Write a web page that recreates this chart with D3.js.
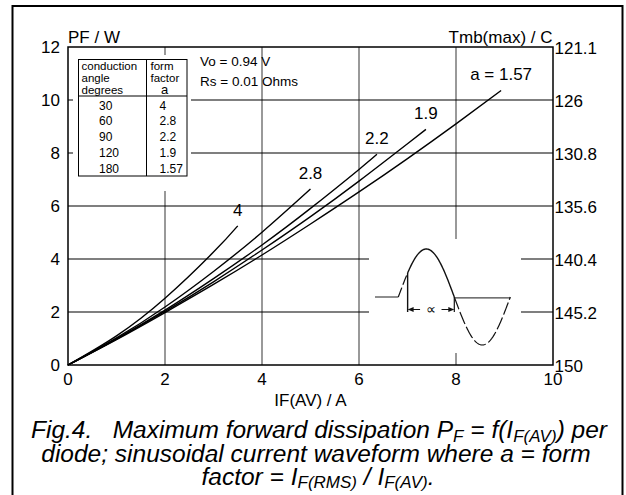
<!DOCTYPE html>
<html><head><meta charset="utf-8">
<script src="https://cdn.jsdelivr.net/npm/d3@7"></script>
<style>
body{margin:0;background:#fff}
svg{display:block}
text{font-family:"Liberation Sans",Arial,Helvetica,sans-serif;fill:#000}
</style>
</head><body>
<svg id="c" width="626" height="495"></svg>
<script>
// ---- data ----
const xTicks = [0, 2, 4, 6, 8, 10];
const yTicks = [0, 2, 4, 6, 8, 10, 12];
const tmbLabels = ["150", "145.2", "140.4", "135.6", "130.8", "126", "121.1"];
const angles = ["30", "60", "90", "120", "180"];
const formFactors = ["4", "2.8", "2.2", "1.9", "1.57"];
const curveLabels = ["4", "2.8", "2.2", "1.9", "a = 1.57"];
const curveA4   = [[0,0],[1,1.10],[2,2.52],[3,4.26],[3.5,5.25]];
const curveA28  = [[0,0],[1,1.02],[2,2.19],[3,3.53],[4,5.01],[5,6.64]];
const curveA22  = [[0,0],[1,0.99],[2,2.07],[3,3.26],[4,4.53],[5,5.91],[6,7.38],[6.37,7.95]];
const curveA19  = [[0,0],[1,0.98],[2,2.02],[3,3.14],[4,4.34],[5,5.60],[6,6.94],[7,8.35],[7.38,8.89]];
const curveA157 = [[0,0],[1,0.96],[2,1.98],[3,3.04],[4,4.15],[5,5.32],[6,6.53],[7,7.79],[8,9.10],[8.93,10.36]];
const curves = [curveA4, curveA28, curveA22, curveA19, curveA157];

// ---- layout ----
const svg = d3.select("#c");
const L = 68, R = 553, T = 47, B = 365;
const x = d3.scaleLinear().domain([0, 10]).range([L, R]);
const y = d3.scaleLinear().domain([0, 12]).range([B, T]);
const F = 17;

// outer frame
svg.append("rect").attr("x", 12.5).attr("y", 6).attr("width", 610).attr("height", 500)
  .attr("fill", "none").attr("stroke", "#000").attr("stroke-width", 2);

// gridlines
svg.append("g").selectAll("line").data(xTicks.slice(1, -1)).join("line")
  .attr("x1", d => x(d)).attr("x2", d => x(d)).attr("y1", T).attr("y2", B)
  .attr("stroke", "#777").attr("stroke-width", 1.5);
svg.append("g").selectAll("line").data(yTicks.slice(1, -1)).join("line")
  .attr("x1", L).attr("x2", R).attr("y1", d => y(d)).attr("y2", d => y(d))
  .attr("stroke", "#000").attr("stroke-width", 1.2);

// white masks (table and inset)
svg.append("rect").attr("x", L + 5).attr("y", T + 8).attr("width", 118).attr("height", 136).attr("fill", "#fff");
svg.append("rect").attr("x", L + 301).attr("y", T + 192).attr("width", 152).attr("height", 114).attr("fill", "#fff");

// plot frame
svg.append("rect").attr("x", L).attr("y", T).attr("width", R - L).attr("height", B - T)
  .attr("fill", "none").attr("stroke", "#000").attr("stroke-width", 1.5);

// tick labels
svg.append("g").selectAll("text").data(yTicks).join("text")
  .attr("x", L - 8).attr("y", d => y(d)).attr("dy", "0.35em")
  .attr("text-anchor", "end").attr("font-size", F).text(d => d);
svg.append("g").selectAll("text").data(yTicks).join("text")
  .attr("x", R + 1.5).attr("y", d => y(d) + 1).attr("dy", "0.35em")
  .attr("text-anchor", "start").attr("font-size", F).text((d, i) => tmbLabels[i]);
svg.append("g").selectAll("text").data(xTicks).join("text")
  .attr("x", d => x(d)).attr("y", B + 20)
  .attr("text-anchor", "middle").attr("font-size", F).text(d => d);

// axis titles
svg.append("text").attr("x", L).attr("y", T - 4.5).attr("font-size", F).text("PF / W");
svg.append("text").attr("x", R - 0.5).attr("y", T - 4).attr("text-anchor", "end").attr("font-size", F).text("Tmb(max) / C");
svg.append("text").attr("x", x(5)).attr("y", B + 41).attr("text-anchor", "middle").attr("font-size", F).text("IF(AV) / A");

// curves
const line = d3.line().x(d => x(d[0])).y(d => y(d[1])).curve(d3.curveNatural);
svg.append("g").selectAll("path").data(curves).join("path")
  .attr("d", line).attr("fill", "none").attr("stroke", "#000").attr("stroke-width", 1.4);
svg.append("g").selectAll("text").data(curves).join("text")
  .attr("x", d => x(d[d.length - 1][0])).attr("y", d => y(d[d.length - 1][1]) - 10)
  .attr("text-anchor", "middle").attr("font-size", F).text((d, i) => curveLabels[i]);

// Vo / Rs
svg.append("text").attr("x", L + 132).attr("y", T + 18.5).attr("font-size", 13.5).text("Vo = 0.94 V");
svg.append("text").attr("x", L + 132).attr("y", T + 39).attr("font-size", 13.5).text("Rs = 0.01 Ohms");

// table
const tb = svg.append("g");
const tx0 = L + 10.5, ty0 = T + 12.5, tw = 108.5, th = 116.5, tcol = L + 78.5, thead = T + 49;
tb.append("rect").attr("x", tx0).attr("y", ty0).attr("width", tw).attr("height", th)
  .attr("fill", "#fff").attr("stroke", "#000").attr("stroke-width", 1);
tb.append("line").attr("x1", tcol).attr("x2", tcol).attr("y1", ty0).attr("y2", ty0 + th).attr("stroke", "#000");
tb.append("line").attr("x1", tx0).attr("x2", tx0 + tw).attr("y1", thead).attr("y2", thead).attr("stroke", "#000");
["conduction", "angle", "degrees"].forEach((s, i) =>
  tb.append("text").attr("x", tx0 + 3).attr("y", ty0 + 10 + i * 12).attr("font-size", 11.5).text(s));
["form", "factor"].forEach((s, i) =>
  tb.append("text").attr("x", tcol + 4).attr("y", ty0 + 10 + i * 12).attr("font-size", 11.5).text(s));
tb.append("text").attr("x", tcol + 18).attr("y", ty0 + 34).attr("text-anchor", "middle").attr("font-size", 13).text("a");
tb.selectAll("text.ang").data(angles).join("text").attr("class", "ang")
  .attr("x", tx0 + 20.5).attr("y", (d, i) => ty0 + 50 + i * 15.85).attr("font-size", 12).text(d => d);
tb.selectAll("text.ff").data(formFactors).join("text").attr("class", "ff")
  .attr("x", tcol + 13).attr("y", (d, i) => ty0 + 50 + i * 15.85).attr("font-size", 12).text(d => d);

// inset sinusoid schematic
const ins = svg.append("g");
const z0 = L + 330.3, per = 112, base = T + 250, amp = 48;
const px = deg => z0 + deg / 360 * per;
const py = v => base - v * amp;
const sinPath = (a0, a1) => d3.line()(d3.range(a0, a1 + 0.01, 2).map(a => [px(a), py(Math.sin(a * Math.PI / 180))]));
const st = "#111";
ins.append("line").attr("x1", px(-75)).attr("x2", px(0)).attr("y1", base).attr("y2", base).attr("stroke", "#444").attr("stroke-width", 1.2);
ins.append("path").attr("d", sinPath(0, 30)).attr("fill", "none").attr("stroke", st).attr("stroke-width", 1.2).attr("stroke-dasharray", "10,3");
ins.append("line").attr("x1", px(30)).attr("x2", px(30)).attr("y1", py(0.5)).attr("y2", base + 15).attr("stroke", st).attr("stroke-width", 1.4);
ins.append("path").attr("d", sinPath(30, 180)).attr("fill", "none").attr("stroke", st).attr("stroke-width", 1.4);
ins.append("line").attr("x1", px(180)).attr("x2", px(180)).attr("y1", base).attr("y2", base + 15).attr("stroke", st).attr("stroke-width", 1.2);
ins.append("line").attr("x1", px(180)).attr("x2", px(360)).attr("y1", base + 0.8).attr("y2", base + 0.8).attr("stroke", "#444").attr("stroke-width", 1.2);
ins.append("path").attr("d", sinPath(180, 360)).attr("fill", "none").attr("stroke", st).attr("stroke-width", 1.2).attr("stroke-dasharray", "13,3");
const ay = base + 12.5;
ins.append("line").attr("x1", px(30) + 5).attr("x2", px(70)).attr("y1", ay).attr("y2", ay).attr("stroke", st);
ins.append("line").attr("x1", px(139)).attr("x2", px(180) - 5).attr("y1", ay).attr("y2", ay).attr("stroke", st);
ins.append("path").attr("d", `M${px(30)},${ay}l6,-2.5v5z`).attr("fill", st);
ins.append("path").attr("d", `M${px(180)},${ay}l-6,-2.5v5z`).attr("fill", st);
ins.append("text").attr("x", px(104)).attr("y", ay).attr("dy", "0.35em").attr("text-anchor", "middle")
  .attr("font-size", 14).text("\u221D");

// caption
const cap = svg.append("g").attr("font-style", "italic").attr("font-size", 24.5);
const t1 = cap.append("text").attr("x", 319).attr("y", 438).attr("text-anchor", "middle").style("white-space", "pre");
t1.append("tspan").text("Fig.4.   Maximum forward dissipation P");
t1.append("tspan").attr("font-size", 17).attr("dy", 3.5).text("F");
t1.append("tspan").attr("dy", -3.5).text(" = f(I");
t1.append("tspan").attr("font-size", 17).attr("dy", 3.5).text("F(AV)");
t1.append("tspan").attr("dy", -3.5).text(") per");
cap.append("text").attr("x", 316).attr("y", 461.5).attr("text-anchor", "middle")
  .text("diode; sinusoidal current waveform where a = form");
const t3 = cap.append("text").attr("x", 318).attr("y", 484.5).attr("text-anchor", "middle");
t3.append("tspan").text("factor = I");
t3.append("tspan").attr("font-size", 17).attr("dy", 3.5).text("F(RMS)");
t3.append("tspan").attr("dy", -3.5).text(" / I");
t3.append("tspan").attr("font-size", 17).attr("dy", 3.5).text("F(AV)");
t3.append("tspan").attr("dy", -3.5).text(".");
</script>
</body></html>
